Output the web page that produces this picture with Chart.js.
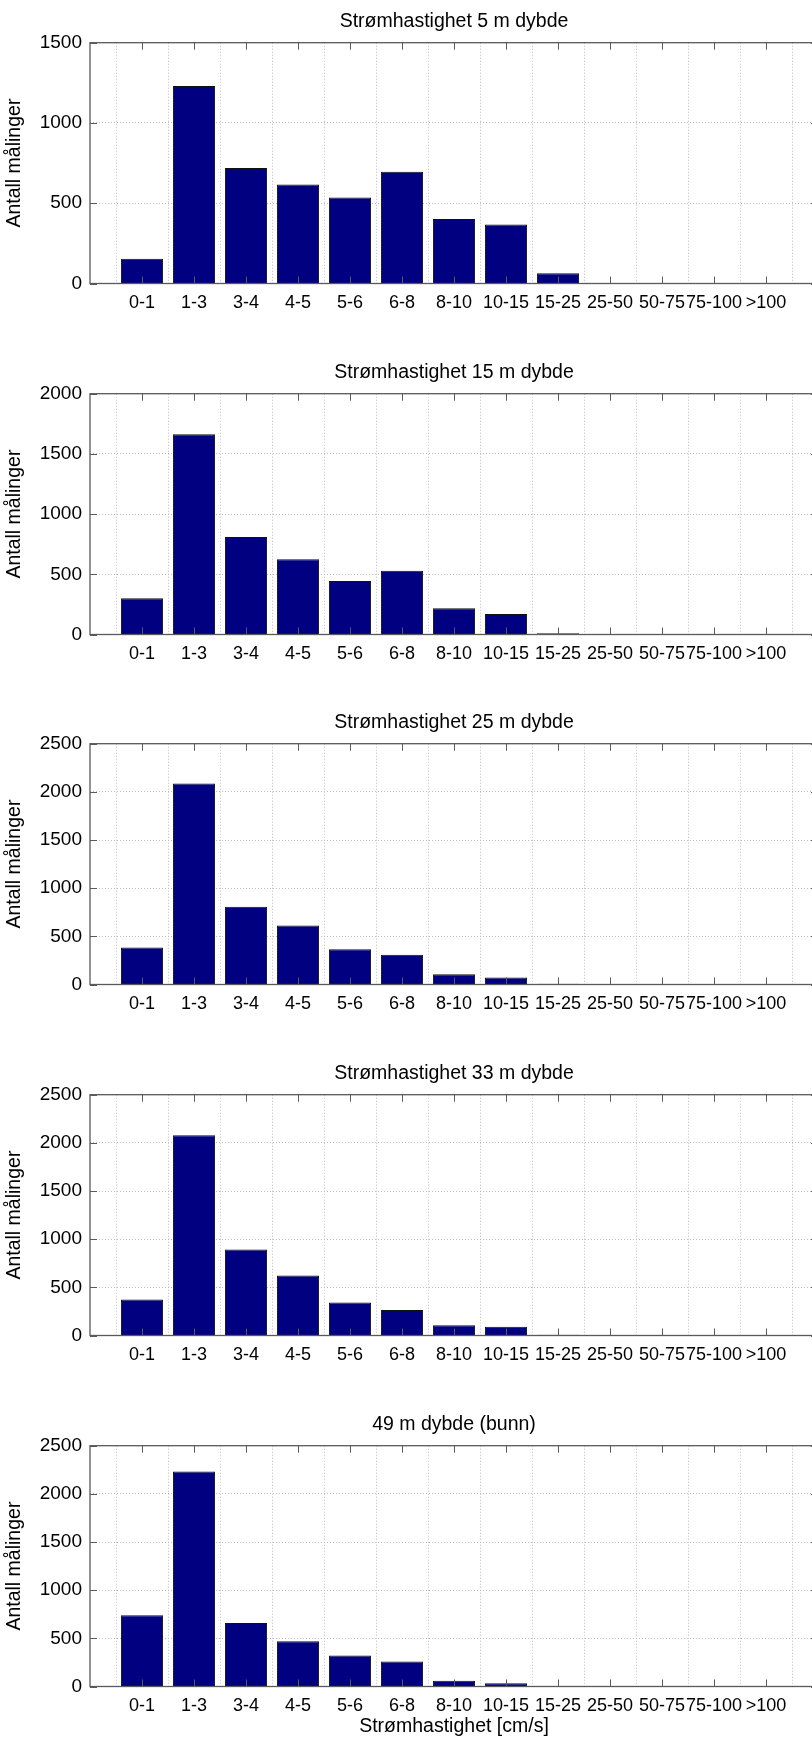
<!DOCTYPE html>
<html>
<head>
<meta charset="utf-8">
<script src="https://cdn.jsdelivr.net/npm/chart.js@4/dist/chart.umd.min.js"></script>
<style>
  html, body { margin: 0; padding: 0; background: #ffffff; width: 812px; height: 1739px; overflow: hidden; }
  .panel { position: absolute; left: 0; width: 818px; height: 351px; }
</style>
</head>
<body>
<div class="panel" style="top:0px"><canvas id="c0"></canvas></div>
<div class="panel" style="top:351px"><canvas id="c1"></canvas></div>
<div class="panel" style="top:701px"><canvas id="c2"></canvas></div>
<div class="panel" style="top:1052px"><canvas id="c3"></canvas></div>
<div class="panel" style="top:1403px"><canvas id="c4"></canvas></div>
<script>
// ---- data ----
const categories = ['0-1', '1-3', '3-4', '4-5', '5-6', '6-8', '8-10', '10-15', '15-25', '25-50', '50-75', '75-100', '>100'];
const depth5m  = [154, 1231, 720, 617, 536, 696, 402, 367, 64, 0, 0, 0, 0];
const depth15m = [301, 1663, 809, 624, 445, 530, 218, 171, 10, 0, 0, 0, 0];
const depth25m = [384, 2088, 806, 612, 367, 308, 107, 73, 8, 0, 0, 0, 0];
const depth33m = [373, 2078, 892, 622, 342, 266, 107, 90, 7, 0, 0, 0, 0];
const depth49m = [740, 2233, 660, 469, 323, 260, 59, 35, 0, 0, 0, 0, 0];
const panelTitles = ['Strømhastighet 5 m dybde', 'Strømhastighet 15 m dybde', 'Strømhastighet 25 m dybde', 'Strømhastighet 33 m dybde', '49 m dybde (bunn)'];
const yMaxima = [1500, 2000, 2500, 2500, 2500];
const yTickStep = 500;
const yAxisTitle = 'Antall målinger';
const xAxisTitle = 'Strømhastighet [cm/s]';

const seriesList = [depth5m, depth15m, depth25m, depth33m, depth49m];
const FONT = "'Liberation Sans', Arial, Helvetica, sans-serif";
const AXIS_COLOR = '#5a5a5a';
const GRID_COLOR = '#bcbcbc';

// MATLAB-like box with inward tick marks
const boxPlugin = {
  id: 'matlabBox',
  afterDatasetsDraw(chart) {
    const { ctx, chartArea: a, scales } = chart;
    const x = scales.x, y = scales.y;
    const L = 7;
    ctx.save();
    ctx.strokeStyle = AXIS_COLOR;
    ctx.lineWidth = 1;
    ctx.beginPath();
    x.ticks.forEach(t => {
      const px = Math.round(x.getPixelForValue(t.value)) + 0.5;
      ctx.moveTo(px, a.bottom); ctx.lineTo(px, a.bottom - L);
      ctx.moveTo(px, a.top); ctx.lineTo(px, a.top + L);
    });
    y.ticks.forEach(t => {
      const py = Math.round(y.getPixelForValue(t.value)) + 0.5;
      ctx.moveTo(a.left, py); ctx.lineTo(a.left + L, py);
      ctx.moveTo(a.right, py); ctx.lineTo(a.right - L, py);
    });
    ctx.stroke();
    ctx.lineWidth = 1.3;
    ctx.strokeRect(a.left, a.top, a.right - a.left, a.bottom - a.top);
    ctx.restore();
  }
};

seriesList.forEach((values, idx) => {
  const isLast = idx === seriesList.length - 1;
  const ctx = document.getElementById('c' + idx).getContext('2d');
  new Chart(ctx, {
    type: 'bar',
    data: {
      datasets: [{
        data: values.map((v, i) => ({ x: i + 1, y: v })),
        backgroundColor: '#000080',
        borderColor: '#111111',
        borderWidth: 1,
        borderSkipped: 'start',
        categoryPercentage: 1,
        barPercentage: 0.81
      }]
    },
    options: {
      responsive: true,
      maintainAspectRatio: false,
      animation: false,
      devicePixelRatio: 1,
      layout: { padding: 0 },
      plugins: {
        legend: { display: false },
        tooltip: { enabled: false },
        title: {
          display: true,
          text: panelTitles[idx],
          fullSize: false,
          color: '#000000',
          font: { family: FONT, size: 19.5, weight: 'normal' },
          padding: { top: 9.8, bottom: 9.5 }
        }
      },
      scales: {
        x: {
          type: 'linear',
          min: 0,
          max: categories.length + 1,
          offset: false,
          afterBuildTicks: s => { s.ticks = categories.map((c, i) => ({ value: i + 1 })); },
          afterFit: s => { s.height = 351 - 283.5; },
          ticks: {
            autoSkip: false,
            maxRotation: 0,
            minRotation: 0,
            padding: 9,
            color: '#000000',
            font: { family: FONT, size: 18 },
            callback: v => categories[v - 1] ?? ''
          },
          grid: { color: GRID_COLOR, lineWidth: 1, drawTicks: false },
          border: { display: false, dash: [1, 2] },
          title: {
            display: isLast,
            text: xAxisTitle,
            color: '#000000',
            font: { family: FONT, size: 19.5, weight: 'normal' },
            padding: { top: 0, bottom: 15.3 }
          }
        },
        y: {
          min: 0,
          max: yMaxima[idx],
          afterFit: s => { s.width = 90; },
          ticks: {
            stepSize: yTickStep,
            padding: 8,
            color: '#000000',
            font: { family: FONT, size: 19 },
            callback: v => String(v)
          },
          grid: { color: GRID_COLOR, lineWidth: 1, drawTicks: false },
          border: { display: false, dash: [1, 2] },
          title: {
            display: true,
            text: yAxisTitle,
            color: '#000000',
            font: { family: FONT, size: 19.5, weight: 'normal' },
            padding: { top: 2.5, bottom: 0 }
          }
        }
      }
    },
    plugins: [boxPlugin]
  });
});
</script>
</body>
</html>
